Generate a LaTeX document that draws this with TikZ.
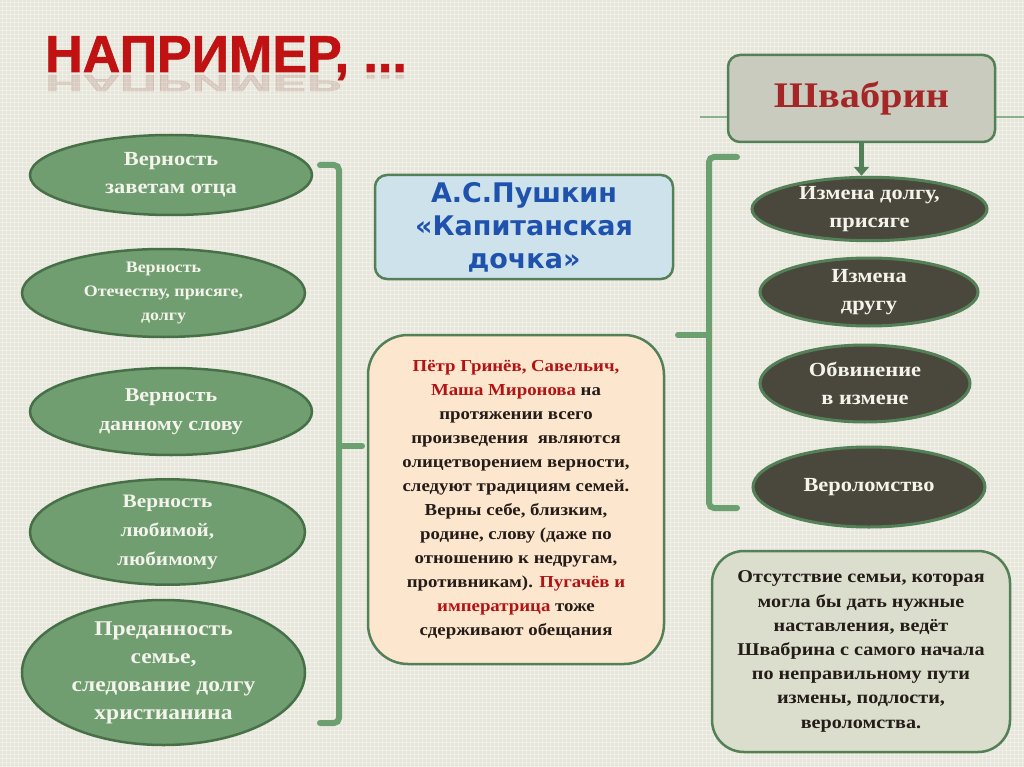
\documentclass[tikz,border=0pt]{standalone}
\usepackage{fontspec}
\setmainfont[FakeStretch=1.12]{Liberation Serif}
\newfontfamily\sansfnt[FakeBold=1.2]{Liberation Sans}
\newfontfamily\pushfnt{DejaVu Sans}
\usetikzlibrary{shapes.geometric,arrows.meta}
\definecolor{bg}{RGB}{230,230,218}
\definecolor{titlered}{RGB}{192,18,18}
\definecolor{edgegreen}{RGB}{84,128,88}
\definecolor{brgreen}{RGB}{108,160,112}
\definecolor{ellgreen}{RGB}{112,158,112}
\definecolor{ellborder}{RGB}{72,112,72}
\definecolor{darkfill}{RGB}{74,72,60}
\definecolor{txtlight}{RGB}{244,244,236}
\definecolor{shvfill}{RGB}{200,203,190}
\definecolor{shvred}{RGB}{165,38,38}
\definecolor{bluefill}{RGB}{206,226,236}
\definecolor{bluetxt}{RGB}{30,82,172}
\definecolor{peach}{RGB}{252,230,206}
\definecolor{textred}{RGB}{178,20,20}
\definecolor{darktxt}{RGB}{36,28,24}
\definecolor{notefill}{RGB}{220,222,205}
\tikzset{
  greenell/.style={ellipse, draw=ellborder, line width=2.5pt, fill=ellgreen, inner sep=0pt,
    text=txtlight, align=center, font=\bfseries\fontsize{20}{28}\selectfont},
  darkell/.style={ellipse, draw=edgegreen, line width=3pt, fill=darkfill, inner sep=0pt,
    text=txtlight, align=center, font=\bfseries\fontsize{20}{27.5}\selectfont},
  roundbox/.style={rectangle, rounded corners=#1, draw=edgegreen, line width=2.5pt, inner sep=0pt, align=center},
  bracket/.style={draw=brgreen, line width=6pt, rounded corners=5pt, line cap=round},
  gridline/.style={draw=white, opacity=0.35, line width=0.6pt},
}
\begin{document}
\begin{tikzpicture}[x=1pt,y=-1pt]
\fill[bg] (0,0) rectangle (1024,767);
\useasboundingbox (0,0) rectangle (1024,767);
% background texture
\foreach \gx in {2,6,...,1022} \draw[gridline] (\gx,0) -- (\gx,767);
\foreach \gy in {2,6,...,766} \draw[gridline] (0,\gy) -- (1024,\gy);

% title with reflection
\node[anchor=base west, inner sep=0pt, text=titlered,
  font=\sansfnt\bfseries\fontsize{52}{52}\selectfont] (title) at (45,72) {НАПРИМЕР, ...};
\node[anchor=base west, inner sep=0pt, text=titlered!60!black, opacity=0.12, yscale=-0.45,
  font=\sansfnt\bfseries\fontsize{52}{52}\selectfont] (titlerefl) at (45,75) {НАПРИМЕР, ...};

% Shvabrin box
\draw[draw=brgreen!80, line width=2pt] (700,117) -- (728,117);
\draw[draw=brgreen!80, line width=2pt] (995,117) -- (1024,117);
\node[roundbox=12pt, fill=shvfill, minimum width=267pt, minimum height=87pt,
  text=shvred, font=\bfseries\fontsize{36}{40}\selectfont] (shv) at (861.5,98.5) {Швабрин};

% Pushkin box
\node[roundbox=12pt, fill=bluefill, minimum width=298pt, minimum height=104pt,
  text=bluetxt, font=\pushfnt\bfseries\fontsize{27}{33}\selectfont] (push) at (524,227)
  {А.С.Пушкин\\«Капитанская\\дочка»};

% Peach box
\node[roundbox=40pt, fill=peach, minimum width=296pt, minimum height=329pt,
  text=darktxt, font=\bfseries\fontsize{16.8}{24}\selectfont] (main) at (516,499.5)
  {\textcolor{textred}{Пётр Гринёв, Савельич,}\\
   \textcolor{textred}{Маша Миронова} на\\
   протяжении всего\\
   произведения \ являются\\
   олицетворением верности,\\
   следуют традициям семей.\\
   Верны себе, близким,\\
   родине, слову (даже по\\
   отношению к недругам,\\
   противникам). \textcolor{textred}{Пугачёв и}\\
   \textcolor{textred}{императрица} тоже\\
   сдерживают обещания};

% Note box
\node[roundbox=32pt, fill=notefill, minimum width=298pt, minimum height=201pt,
  text=darktxt, font=\bfseries\fontsize{18}{24.2}\selectfont] (note) at (861,651.5)
  {Отсутствие семьи, которая\\
   могла бы дать нужные\\
   наставления, ведёт\\
   Швабрина с самого начала\\
   по неправильному пути\\
   измены, подлости,\\
   вероломства.};

% left ellipses
\node[greenell, minimum width=282pt, minimum height=80pt] (l1) at (171,175) {Верность\\заветам отца};
\node[greenell, minimum width=283pt, minimum height=88pt, font=\bfseries\fontsize{16}{24}\selectfont] (l2) at (163.5,293) {Верность\\Отечеству, присяге,\\долгу};
\node[greenell, minimum width=282pt, minimum height=87pt, font=\bfseries\fontsize{19.6}{29}\selectfont] (l3) at (171,411.5) {Верность\\данному слову};
\node[greenell, minimum width=275pt, minimum height=102pt, font=\bfseries\fontsize{19}{29}\selectfont] (l4) at (167.5,532) {Верность\\любимой,\\любимому};
\node[greenell, minimum width=283pt, minimum height=145pt, font=\bfseries\fontsize{21}{28}\selectfont] (l5) at (163.5,672.5) {Преданность\\семье,\\следование долгу\\христианина};

% right ellipses
\node[darkell, minimum width=235pt, minimum height=62pt] (r1) at (869.5,209) {Измена долгу,\\присяге};
\node[darkell, minimum width=218pt, minimum height=68pt] (r2) at (869,292) {Измена\\другу};
\node[darkell, minimum width=210pt, minimum height=77pt] (r3) at (865,383.5) {Обвинение\\в измене};
\node[darkell, minimum width=232pt, minimum height=80pt] (r4) at (869,487) {Вероломство};

% arrow from Shvabrin
\draw[draw=edgegreen, line width=4.5pt, -{Triangle[length=9pt,width=15pt]}] (shv.south) -- (shv.south |- r1.north);

% left bracket
\coordinate (lbtop) at (320,165);
\coordinate (lbbot) at (320,723);
\coordinate (lbtick) at (362,446);
\draw[bracket] (lbtop) -- (339,165) -- (339,723) -- (lbbot);
\draw[bracket] (339,446) -- (lbtick);

% right bracket
\coordinate (rbtop) at (737,157);
\coordinate (rbbot) at (737,508);
\coordinate (rbtick) at (678,335);
\draw[bracket] (rbtop) -- (709,157) -- (709,508) -- (rbbot);
\draw[bracket] (709,335) -- (rbtick);
\end{tikzpicture}
\end{document}
